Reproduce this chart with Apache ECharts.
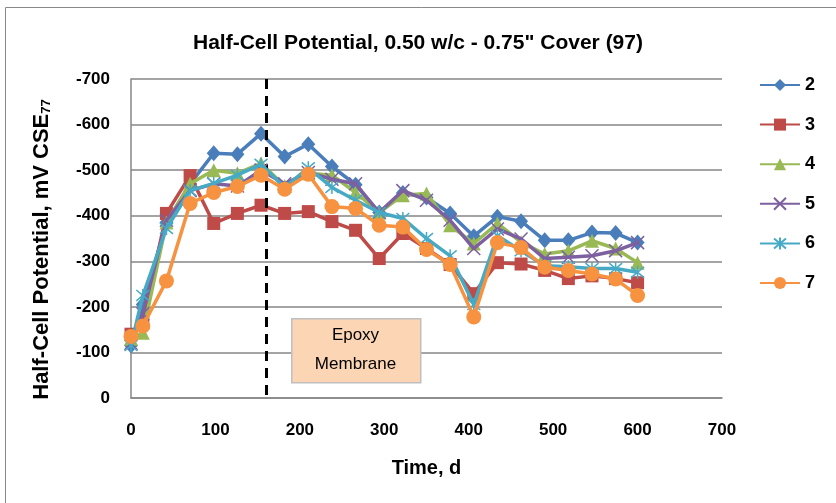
<!DOCTYPE html>
<html>
<head>
<meta charset="utf-8">
<script src="https://cdn.jsdelivr.net/npm/echarts@6/dist/echarts.min.js"></script>
<style>
  html, body { margin: 0; padding: 0; background: #fff; }
  #main { width: 836px; height: 503px; }
</style>
</head>
<body>
<div id="main"></div>
<script>
var days = [0, 14, 42, 70, 98, 126, 154, 182, 210, 238, 266, 294, 322, 350, 378, 406, 434, 462, 490, 518, 546, 574, 600];
var s2 = [-115, -205, -385, -470, -537, -535, -580, -530, -557, -508, -468, -407, -450, -440, -405, -355, -398, -388, -346, -346, -363, -362, -341];
var s3 = [-140, -165, -405, -488, -383, -405, -423, -405, -409, -387, -368, -306, -361, -328, -293, -229, -297, -294, -280, -262, -268, -262, -253];
var s4 = [-130, -143, -385, -470, -500, -493, -515, -465, -493, -489, -451, -407, -445, -449, -379, -339, -383, -342, -316, -323, -345, -328, -297];
var s5 = [-120, -185, -390, -455, -470, -465, -500, -470, -495, -480, -470, -407, -455, -434, -390, -328, -371, -349, -306, -309, -312, -323, -341];
var s6 = [-115, -225, -372, -455, -471, -489, -513, -462, -505, -462, -434, -407, -394, -350, -312, -205, -356, -323, -290, -288, -284, -284, -276];
var s7 = [-135, -158, -257, -427, -451, -464, -489, -458, -491, -420, -416, -379, -375, -326, -293, -178, -341, -330, -287, -280, -272, -261, -225];
var seriesNames = ['2', '3', '4', '5', '6', '7'];
var membraneDay = 160;

var FONT = '"Liberation Sans", Arial, sans-serif';
var colors = ['#4A7EBB', '#BE4B48', '#98B954', '#7D60A0', '#46AAC5', '#F69240'];
var symbols = [
    'diamond',
    'rect',
    'triangle',
    'path://M0,0L10,10M10,0L0,10',
    'path://M0,0L10,10M10,0L0,10M5,-1L5,11',
    'circle'
];
var symbolSizes = [[14, 16], 13, 14, 13, 13, 15];
var allValues = [s2, s3, s4, s5, s6, s7];

var myChart = echarts.init(document.getElementById('main'));

var series = allValues.map(function (vals, k) {
    var s = {
        name: seriesNames[k],
        type: 'line',
        data: days.map(function (d, i) { return [d, vals[i]]; }),
        symbol: symbols[k],
        symbolSize: symbolSizes[k],
        lineStyle: { width: 3.5, color: colors[k] },
        itemStyle: {
            color: colors[k],
            borderColor: colors[k],
            borderWidth: (k === 3 || k === 4) ? 1.5 : 0
        },
        emphasis: { disabled: true },
        z: 2 + k
    };
    if (k === 0) {
        s.markLine = {
            silent: true,
            symbol: ['none', 'none'],
            label: { show: false },
            lineStyle: { color: '#000', type: [10, 7], width: 3 },
            data: [{ xAxis: membraneDay }]
        };
    }
    return s;
});

var option = {
    backgroundColor: '#fff',
    animation: false,
    color: colors,
    title: {
        text: 'Half-Cell Potential, 0.50 w/c - 0.75" Cover (97)',
        left: 'center',
        top: 28,
        textStyle: { fontFamily: FONT, fontSize: 21, fontWeight: 'bold', color: '#000' }
    },
    legend: {
        orient: 'vertical',
        left: 754,
        top: 71,
        itemWidth: 40,
        itemHeight: 15,
        itemGap: 21.6,
        textStyle: { fontFamily: FONT, fontSize: 18, fontWeight: 'bold', color: '#000' },
        data: seriesNames
    },
    grid: { left: 131, right: 114, top: 79, bottom: 105 },
    xAxis: {
        type: 'value',
        min: 0,
        max: 700,
        interval: 100,
        name: 'Time, d',
        nameLocation: 'middle',
        nameGap: 60,
        nameTextStyle: { fontFamily: FONT, fontSize: 20, fontWeight: 'bold', color: '#000' },
        axisLine: { lineStyle: { color: '#868686', width: 1.5 } },
        axisTick: { show: false },
        splitLine: { show: false },
        axisLabel: { fontFamily: FONT, fontSize: 17, fontWeight: 'bold', color: '#000', margin: 24 }
    },
    yAxis: {
        type: 'value',
        inverse: true,
        min: -700,
        max: 0,
        interval: 100,
        name: '{a|Half-Cell Potential, mV CSE}{b|77}',
        nameLocation: 'middle',
        nameGap: 78,
        nameTextStyle: {
            padding: [0, 22, 0, 0],
            rich: {
                a: { fontFamily: FONT, fontSize: 22, fontWeight: 'bold', color: '#000' },
                b: { fontFamily: FONT, fontSize: 13, fontWeight: 'bold', color: '#000', verticalAlign: 'bottom', padding: [10, 0, 0, 0] }
            }
        },
        axisLine: { show: true, lineStyle: { color: '#868686', width: 1.5 } },
        axisTick: { show: false },
        splitLine: { lineStyle: { color: '#868686', width: 1.5 } },
        axisLabel: { fontFamily: FONT, fontSize: 17, fontWeight: 'bold', color: '#000', margin: 21 }
    },
    graphic: [
        {
            type: 'rect',
            left: 3,
            top: 5,
            silent: true,
            shape: { width: 900, height: 600 },
            style: { fill: 'none', stroke: '#888', lineWidth: 1 }
        },
        {
            type: 'rect',
            left: 291,
            top: 318,
            z: 1,
            silent: true,
            shape: { width: 129, height: 64 },
            style: { fill: '#FCD5B5', stroke: '#BFBFBF', lineWidth: 1.5 }
        },
        {
            type: 'text',
            x: 355.5,
            y: 350,
            z: 2,
            silent: true,
            style: {
                text: 'Epoxy\nMembrane',
                textAlign: 'center',
                textVerticalAlign: 'middle',
                fontFamily: FONT,
                fontSize: 17,
                lineHeight: 29,
                fill: '#000'
            }
        }
    ],
    series: series
};
myChart.setOption(option);
</script>
</body>
</html>
